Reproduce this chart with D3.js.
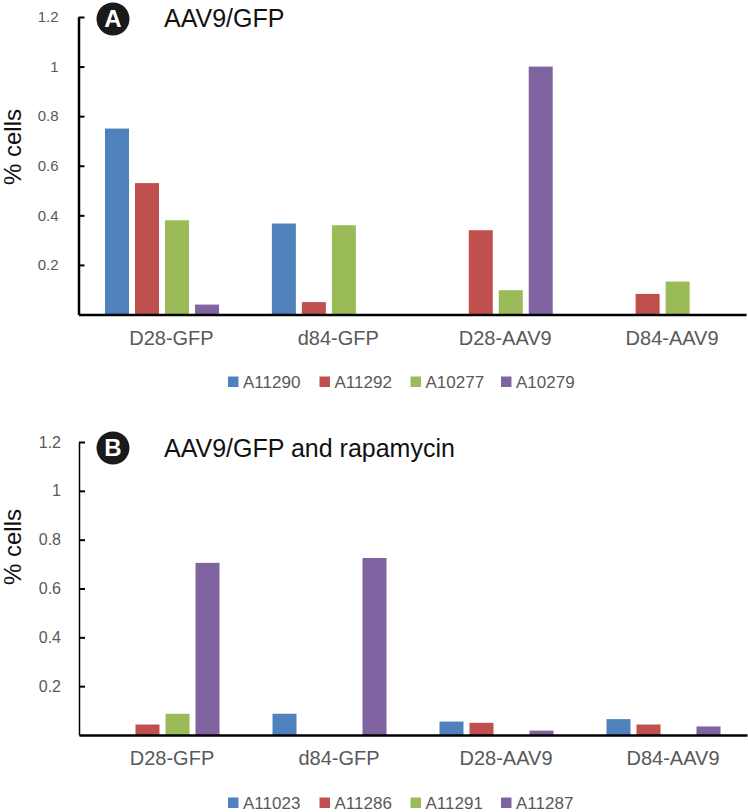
<!DOCTYPE html>
<html><head><meta charset="utf-8">
<script src="https://cdn.jsdelivr.net/npm/d3@7"></script>
<style>html,body{margin:0;background:#fff}svg{display:block}text{font-family:"Liberation Sans",Arial,sans-serif}</style>
</head><body><svg id="c" width="748" height="812"></svg>
<script>
const categories = ["D28-GFP","d84-GFP","D28-AAV9","D84-AAV9"];
const yTicks = [0.2,0.4,0.6,0.8,1,1.2];
const colors = ["#4f81bd","#c0504d","#9bbb59","#8064a2"];
const namesA = ["A11290","A11292","A10277","A10279"];
const valuesA = [[0.75,0.367,0,0],[0.53,0.05,0.34,0.083],[0.38,0.36,0.098,0.133],[0.04,0,1,0]];
const namesB = ["A11023","A11286","A11291","A11287"];
const valuesB = [[0,0.087,0.055,0.065],[0.043,0,0.05,0.043],[0.087,0,0,0],[0.705,0.725,0.018,0.035]];
const svg = d3.select("#c");
function panel(o){
  const g = svg.append("g");
  const x = d3.scaleBand().domain(categories).range([o.x0,o.x1]).paddingInner(0).paddingOuter(0);
  const inner = d3.scaleBand().domain(d3.range(4)).range([26.5,140.5]).paddingInner(0.2).paddingOuter(0);
  const y = d3.scaleLinear().domain([0,1.2]).range([o.y0,o.y1]);
  o.values.forEach((s,i)=>{
    g.selectAll(null).data(s).join("rect")
     .attr("x",(d,j)=>x(categories[j])+inner(i)).attr("width",inner.bandwidth())
     .attr("y",d=>y(d)).attr("height",d=>o.y0-y(d)).attr("fill",colors[i]);
  });
  const ay = g.append("g").attr("transform",`translate(${o.x0},0)`)
    .call(d3.axisLeft(y).tickValues(yTicks).tickFormat(d3.format("~g")).tickSize(0).tickPadding(o.yPad));
  ay.select(".domain").attr("stroke","#000").attr("stroke-width",o.axisW);
  ay.selectAll("text").attr("font-size",o.yFont).attr("fill","#595959");
  ay.selectAll(".tick line").attr("x1",0).attr("x2",6).attr("stroke","#000").attr("stroke-width",2);
  const ax = g.append("g").attr("transform",`translate(0,${o.y0})`)
    .call(d3.axisBottom(x).tickSize(0).tickPadding(16));
  ax.select(".domain").attr("stroke","#000").attr("stroke-width",2.5);
  ax.selectAll("text").attr("font-size",20).attr("fill","#595959").attr("dx",9.5);
  g.append("text").attr("transform",`translate(21,${o.yLabelY}) rotate(-90)`)
    .attr("text-anchor","middle").attr("font-size",24).attr("fill","#111").text("% cells");
  g.append("circle").attr("cx",113).attr("cy",o.circleY).attr("r",16.5).attr("fill","#1a1a1a");
  g.append("text").attr("x",113).attr("y",o.circleY+8).attr("text-anchor","middle").attr("font-size",24).attr("font-weight","bold").attr("fill","#fff").text(o.letter);
  g.append("text").attr("x",164).attr("y",o.titleY).attr("font-size",25).attr("fill","#111").text(o.title);
  const lx = [228,319.5,410.5,501];
  o.names.forEach((n,i)=>{
    g.append("rect").attr("x",lx[i]).attr("y",o.legY-5.5).attr("width",10.5).attr("height",10.5).attr("fill",colors[i]);
    g.append("text").attr("x",lx[i]+15).attr("y",o.legY+6).attr("font-size",17).attr("fill","#595959").text(n);
  });
}
panel({x0:78.5,x1:746,y0:314.5,y1:17,axisW:2.5,yPad:20,yFont:15,values:valuesA,names:namesA,letter:"A",title:"AAV9/GFP",titleY:27,circleY:19,yLabelY:147,legY:382});
panel({x0:79,x1:747,y0:735,y1:442,axisW:1.5,yPad:18,yFont:16,values:valuesB,names:namesB,letter:"B",title:"AAV9/GFP and rapamycin",titleY:457,circleY:448,yLabelY:547,legY:803});
</script></body></html>
